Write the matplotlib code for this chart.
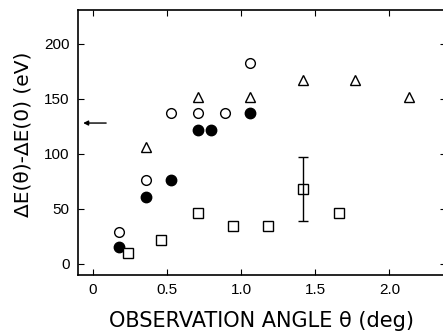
import matplotlib.pyplot as plt

# data (angle in deg, energy shift in eV)
open_x = [0.18, 0.36, 0.53, 0.71, 0.89, 1.06]
open_y = [29, 76, 137, 137, 137, 183]

filled_x = [0.18, 0.36, 0.53, 0.71, 0.80, 1.06]
filled_y = [15, 61, 76, 122, 122, 137]

tri_x = [0.36, 0.71, 1.06, 1.42, 1.77, 2.13]
tri_y = [106, 152, 152, 167, 167, 152]

sq_x = [0.24, 0.46, 0.71, 0.945, 1.18, 1.42, 1.66]
sq_y = [10, 22, 46, 34, 34, 68, 46]

err_x = 1.42
err_y = 68
err_low = 39
err_high = 97

arrow_y = 128

plt.rcParams['font.family'] = ['Liberation Sans', 'DejaVu Sans']

fig = plt.figure(figsize=(4.43, 3.36), dpi=100)
ax = fig.add_axes([0.176, 0.182, 0.83, 0.789])

ax.plot(open_x, open_y, 'o', mfc='white', mec='black', ms=7, mew=1.0)
ax.plot(filled_x, filled_y, 'o', mfc='black', mec='black', ms=7.5)
ax.plot(tri_x, tri_y, '^', mfc='white', mec='black', ms=7, mew=1.0)
ax.plot(sq_x, sq_y, 's', mfc='white', mec='black', ms=6.5, mew=1.0)
ax.errorbar([err_x], [err_y], yerr=[[err_y - err_low], [err_high - err_y]],
            fmt='none', ecolor='black', elinewidth=1.0, capsize=3.5, capthick=1.0)

ax.annotate('', xy=(-0.065, arrow_y), xytext=(0.09, arrow_y),
            arrowprops=dict(arrowstyle='-|>', color='black', lw=1.0,
                            mutation_scale=7, shrinkA=0, shrinkB=0))

ax.set_xlim(-0.1, 2.38)
ax.set_ylim(-10, 231)
ax.set_xticks([0, 0.5, 1.0, 1.5, 2.0])
ax.set_xticklabels(['0', '0.5', '1.0', '1.5', '2.0'])
ax.set_yticks([0, 50, 100, 150, 200])
ax.tick_params(direction='in', top=True, right=True, length=4, labelsize=11, pad=6)
for s in ax.spines.values():
    s.set_linewidth(1.2)

ax.set_xlabel('OBSERVATION ANGLE θ (deg)', fontsize=15, family='DejaVu Sans', labelpad=10)
ax.set_ylabel('ΔE(θ)-ΔE(0) (eV)', fontsize=14.5, family='DejaVu Sans')
ax.yaxis.set_label_coords(-0.125, 0.53)

plt.savefig('out.png', dpi=100)
